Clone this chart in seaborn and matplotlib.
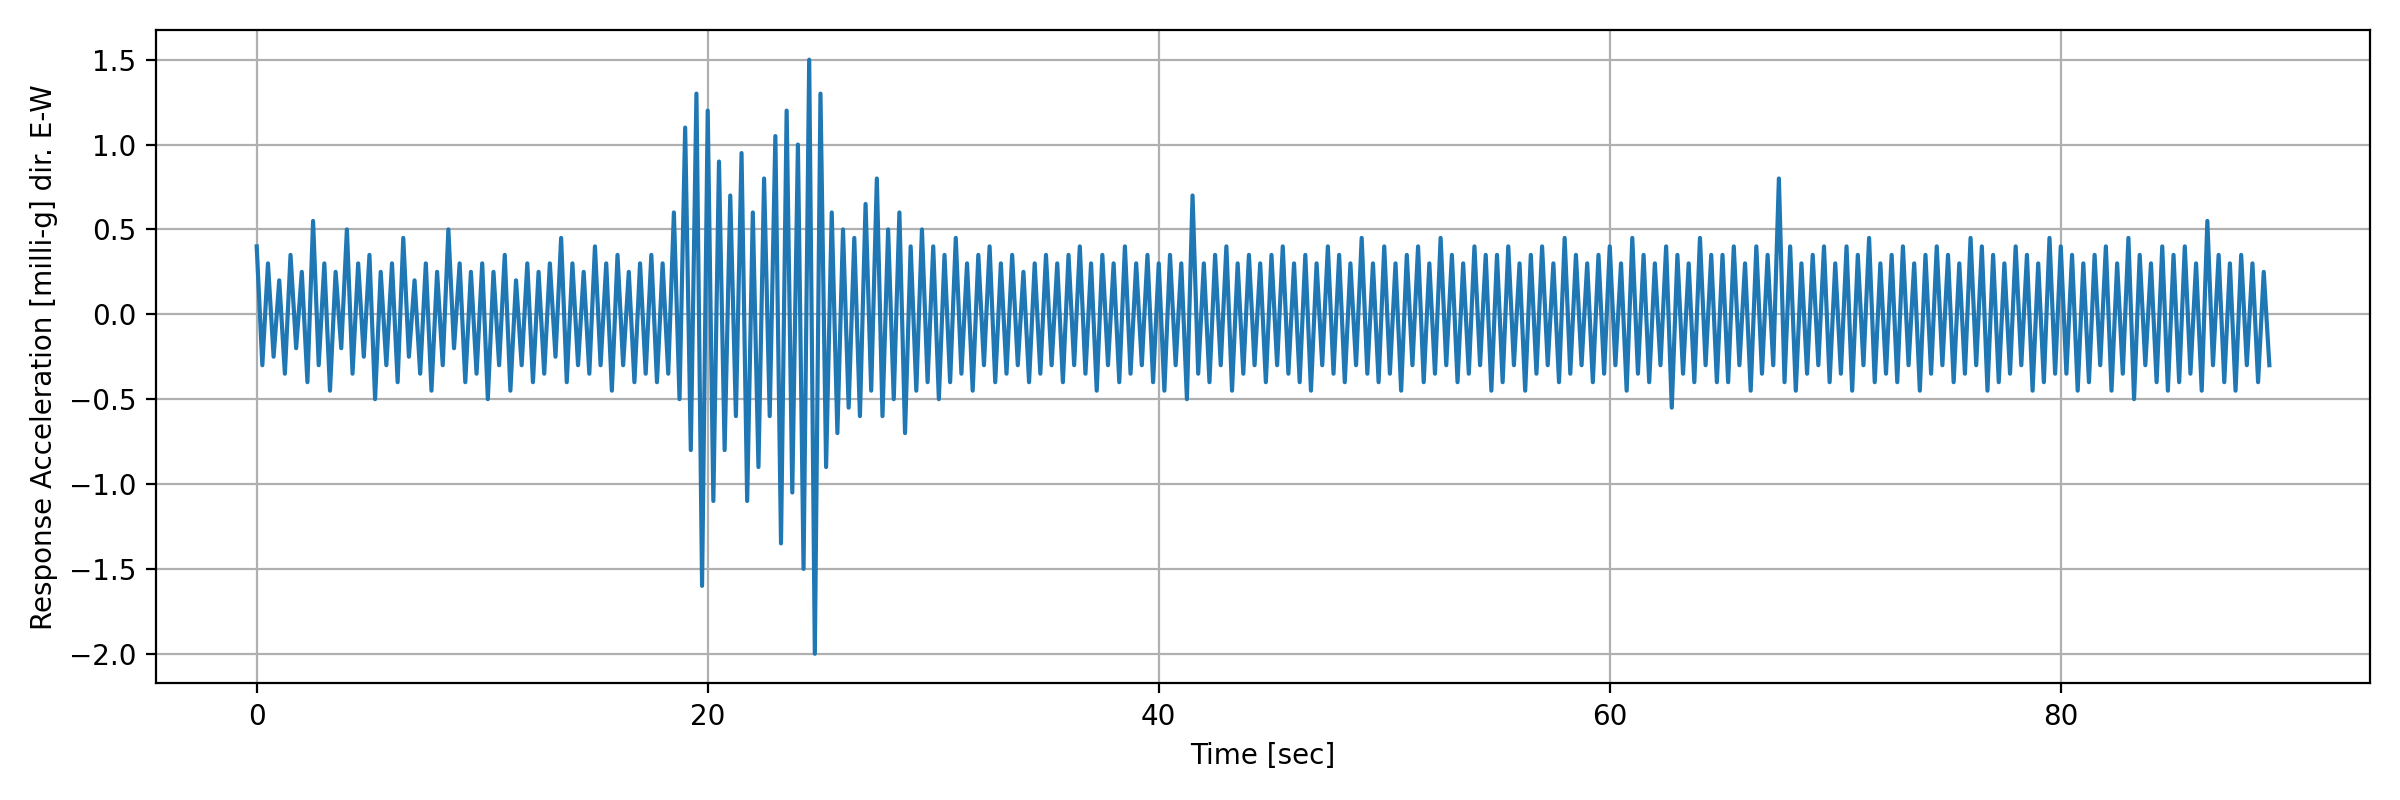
import numpy as np
import pandas as pd
import matplotlib
matplotlib.use("Agg")
import matplotlib.pyplot as plt
import seaborn as sns

# response acceleration [milli-g], one value every 0.25 s
acc = [
    0.4, -0.3, 0.3, -0.25, 0.2, -0.35, 0.35, -0.2, 0.25, -0.4, 0.55, -0.3, 0.3, -0.45, 0.25, -0.2, 0.5, -0.35, 0.3, -0.25,
    0.35, -0.5, 0.25, -0.3, 0.3, -0.4, 0.45, -0.25, 0.2, -0.35, 0.3, -0.45, 0.25, -0.3, 0.5, -0.2, 0.3, -0.4, 0.25, -0.35,
    0.3, -0.5, 0.25, -0.3, 0.35, -0.45, 0.2, -0.3, 0.3, -0.4, 0.25, -0.35, 0.3, -0.25, 0.45, -0.4, 0.3, -0.3, 0.25, -0.35,
    0.4, -0.3, 0.3, -0.45, 0.35, -0.3, 0.25, -0.4, 0.3, -0.35, 0.35, -0.4, 0.3, -0.35, 0.6, -0.5, 1.1, -0.8, 1.3, -1.6,
    1.2, -1.1, 0.9, -0.8, 0.7, -0.6, 0.95, -1.1, 0.6, -0.9, 0.8, -0.6, 1.05, -1.35, 1.2, -1.05, 1.0, -1.5, 1.5, -2.0,
    1.3, -0.9, 0.6, -0.7, 0.5, -0.55, 0.45, -0.6, 0.65, -0.45, 0.8, -0.6, 0.5, -0.5, 0.6, -0.7, 0.4, -0.45, 0.5, -0.4,
    0.4, -0.5, 0.35, -0.4, 0.45, -0.35, 0.3, -0.45, 0.35, -0.3, 0.4, -0.4, 0.3, -0.35, 0.35, -0.3, 0.25, -0.4, 0.3, -0.35,
    0.35, -0.3, 0.3, -0.4, 0.35, -0.3, 0.4, -0.35, 0.3, -0.45, 0.35, -0.3, 0.3, -0.4, 0.4, -0.35, 0.3, -0.3, 0.35, -0.4,
    0.3, -0.45, 0.35, -0.3, 0.3, -0.5, 0.7, -0.35, 0.3, -0.4, 0.35, -0.3, 0.4, -0.45, 0.3, -0.35, 0.35, -0.3, 0.3, -0.4,
    0.35, -0.3, 0.4, -0.35, 0.3, -0.4, 0.35, -0.45, 0.3, -0.3, 0.4, -0.35, 0.35, -0.4, 0.3, -0.3, 0.45, -0.35, 0.3, -0.4,
    0.4, -0.35, 0.3, -0.45, 0.35, -0.3, 0.4, -0.4, 0.3, -0.35, 0.45, -0.3, 0.35, -0.4, 0.3, -0.35, 0.4, -0.3, 0.35, -0.45,
    0.35, -0.4, 0.4, -0.3, 0.3, -0.45, 0.35, -0.35, 0.4, -0.3, 0.3, -0.4, 0.45, -0.35, 0.35, -0.3, 0.3, -0.4, 0.35, -0.35,
    0.4, -0.3, 0.3, -0.45, 0.45, -0.35, 0.35, -0.4, 0.3, -0.3, 0.4, -0.55, 0.35, -0.35, 0.3, -0.4, 0.45, -0.3, 0.35, -0.4,
    0.35, -0.4, 0.4, -0.3, 0.3, -0.45, 0.4, -0.35, 0.35, -0.3, 0.8, -0.4, 0.4, -0.45, 0.3, -0.35, 0.35, -0.3, 0.4, -0.4,
    0.3, -0.35, 0.4, -0.45, 0.35, -0.3, 0.45, -0.4, 0.3, -0.35, 0.35, -0.4, 0.4, -0.3, 0.3, -0.45, 0.35, -0.35, 0.4, -0.3,
    0.35, -0.4, 0.3, -0.35, 0.45, -0.3, 0.4, -0.45, 0.35, -0.4, 0.3, -0.35, 0.4, -0.3, 0.35, -0.45, 0.3, -0.4, 0.45, -0.35,
    0.4, -0.35, 0.35, -0.45, 0.3, -0.4, 0.35, -0.3, 0.4, -0.45, 0.3, -0.35, 0.45, -0.5, 0.35, -0.3, 0.3, -0.4, 0.4, -0.45,
    0.35, -0.4, 0.4, -0.35, 0.3, -0.45, 0.55, -0.3, 0.35, -0.4, 0.3, -0.45, 0.35, -0.3, 0.3, -0.4, 0.25, -0.3,
]
time = np.arange(len(acc)) * 0.25

df = pd.DataFrame({"time": time, "acc": acc})

fig, ax = plt.subplots(figsize=(12, 4), dpi=200)
sns.lineplot(data=df, x="time", y="acc", color="#1f77b4", linewidth=1.5, estimator=None, ax=ax)
ax.grid(True, color="#b0b0b0", linewidth=0.8)
ax.set_xlabel("Time [sec]")
ax.set_ylabel("Response Acceleration [milli-g] dir. E-W")
ax.set_yticks(np.arange(-2.0, 1.51, 0.5))
plt.tight_layout()
plt.savefig("out.png")
